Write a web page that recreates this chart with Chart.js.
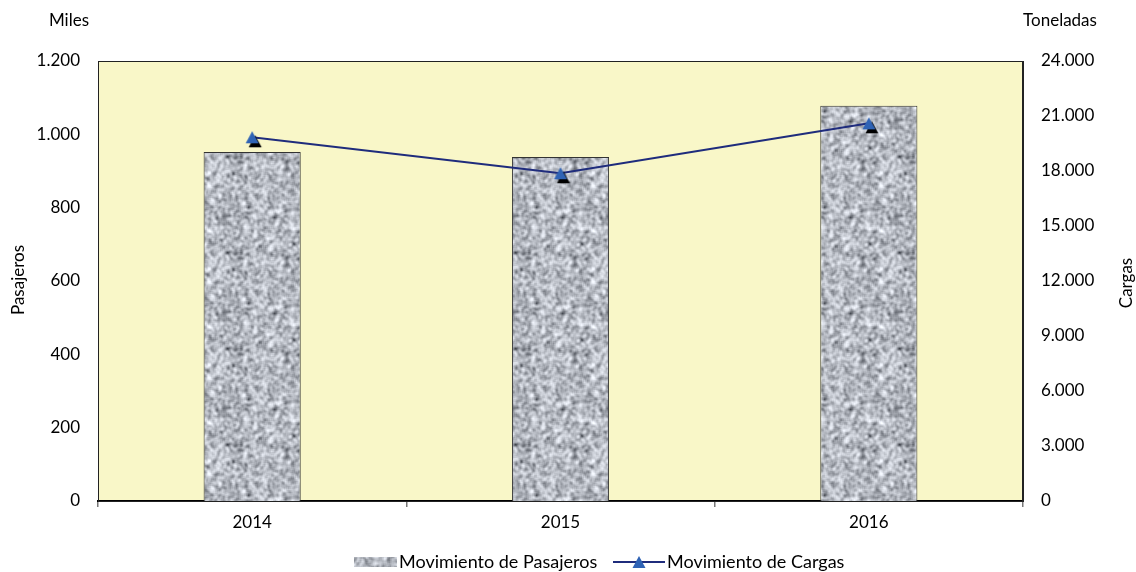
<!DOCTYPE html>
<html>
<head>
<meta charset="utf-8">
<script src="https://cdn.jsdelivr.net/npm/chart.js@4.4.1/dist/chart.umd.min.js"></script>
<style>
  body { margin: 0; background: #fff; }
</style>
</head>
<body>
<canvas id="chart" width="1136" height="572"></canvas>
<script>
var years = ['2014', '2015', '2016'];
var pasajeros = [952, 938, 1078];          // miles
var cargas = [19840, 17880, 20600];        // toneladas
var leftMax = 1200, leftStep = 200;
var rightMax = 24000, rightStep = 3000;
var seriesNames = ['Movimiento de Pasajeros', 'Movimiento de Cargas'];

var FONT = 'Lato, "Noto Sans", sans-serif';
var lineColor = '#1F2C7C';
var markerColor = '#2F63B5';

// puntos de miles: 1200 -> 1.200
function fmt(v) {
    return String(v).replace(/\B(?=(\d{3})+(?!\d))/g, '.');
}

// textura tipo granito para las barras
function makeGranite() {
    var size = 96;
    var c = document.createElement('canvas');
    c.width = c.height = size;
    var g = c.getContext('2d');
    var seed = 20161;
    function rnd() {
        seed = (seed * 1103515245 + 12345) & 0x7fffffff;
        return seed / 0x7fffffff;
    }
    var n = new Float32Array(size * size);
    for (var i = 0; i < n.length; i++) n[i] = rnd();
    for (var pass = 0; pass < 2; pass++) {
        var m = new Float32Array(size * size);
        for (var y = 0; y < size; y++) {
            for (var x = 0; x < size; x++) {
                var s = 0;
                for (var dy = -1; dy <= 1; dy++) {
                    for (var dx = -1; dx <= 1; dx++) {
                        s += n[((y + dy + size) % size) * size + (x + dx + size) % size];
                    }
                }
                m[y * size + x] = s / 9;
            }
        }
        n = m;
    }
    var lo = 1, hi = 0;
    for (var k = 0; k < n.length; k++) { lo = Math.min(lo, n[k]); hi = Math.max(hi, n[k]); }
    var img = g.createImageData(size, size);
    for (var j = 0; j < n.length; j++) {
        var t = (n[j] - lo) / (hi - lo);
        t = Math.pow(t, 0.7);
        var v = 70 + t * 185;
        img.data[j * 4] = v - 4;
        img.data[j * 4 + 1] = v;
        img.data[j * 4 + 2] = v + 8;
        img.data[j * 4 + 3] = 255;
    }
    g.putImageData(img, 0, 0);
    return c;
}

function drawTri(g, cx, cy, color) {
    g.fillStyle = color;
    g.beginPath();
    g.moveTo(cx, cy - 6);
    g.lineTo(cx + 6.5, cy + 6);
    g.lineTo(cx - 6.5, cy + 6);
    g.closePath();
    g.fill();
}

// triangulo azul con sombra negra
function makeMarker() {
    var c = document.createElement('canvas');
    c.width = c.height = 26;
    var g = c.getContext('2d');
    drawTri(g, 13 + 3, 13 + 4, '#000');
    drawTri(g, 13, 13, markerColor);
    return c;
}

var granite = makeGranite();
var ctx = document.getElementById('chart').getContext('2d');
var pattern = ctx.createPattern(granite, 'repeat');

var extras = {
    id: 'extras',
    beforeDraw: function(chart) {
        var a = chart.chartArea, c = chart.ctx;
        c.save();
        c.fillStyle = '#F9F7C8';
        c.fillRect(a.left, a.top, a.right - a.left, a.bottom - a.top);
        c.restore();
    },
    afterDatasetsDraw: function(chart) {
        var a = chart.chartArea, c = chart.ctx;
        c.save();
        c.strokeStyle = '#222';
        c.lineWidth = 1;
        c.strokeRect(a.left + 0.5, a.top + 0.5, a.right - a.left - 1, a.bottom - a.top);
        c.restore();
    },
    afterDraw: function(chart) {
        var c = chart.ctx;
        c.save();
        c.fillStyle = '#000';
        c.font = '17px ' + FONT;
        c.textBaseline = 'middle';
        c.textAlign = 'center';
        c.fillText('Miles', 69, 21);
        c.fillText('Toneladas', 1060, 21);

        c.save();
        c.translate(19, 280);
        c.rotate(-Math.PI / 2);
        c.fillText('Pasajeros', 0, 0);
        c.restore();
        c.save();
        c.translate(1127, 283);
        c.rotate(-Math.PI / 2);
        c.fillText('Cargas', 0, 0);
        c.restore();

        // leyenda
        var ly = 562;
        c.font = '18px ' + FONT;
        c.fillStyle = pattern;
        c.fillRect(354, ly - 5, 43, 10);
        c.fillStyle = '#000';
        c.textAlign = 'left';
        c.fillText(seriesNames[0], 399, ly);
        c.strokeStyle = lineColor;
        c.lineWidth = 2;
        c.beginPath();
        c.moveTo(613, ly);
        c.lineTo(665, ly);
        c.stroke();
        drawTri(c, 639, ly, markerColor);
        c.fillStyle = '#000';
        c.fillText(seriesNames[1], 667, ly);
        c.restore();
    }
};

var chart = new Chart(ctx, {
    type: 'bar',
    data: {
        labels: years,
        datasets: [{
            type: 'line',
            label: seriesNames[1],
            data: cargas,
            yAxisID: 'y1',
            borderColor: lineColor,
            borderWidth: 2,
            pointStyle: makeMarker(),
            pointRadius: 7,
            tension: 0,
            order: 0
        }, {
            type: 'bar',
            label: seriesNames[0],
            data: pasajeros,
            yAxisID: 'y',
            backgroundColor: pattern,
            borderColor: '#333',
            borderWidth: 1,
            barPercentage: 0.315,
            categoryPercentage: 1,
            order: 1
        }]
    },
    options: {
        responsive: false,
        animation: false,
        layout: { padding: { top: 61, left: 0, right: 0, bottom: 0 } },
        plugins: {
            legend: { display: false },
            tooltip: { enabled: false }
        },
        scales: {
            x: {
                offset: true,
                grid: { offset: true, drawOnChartArea: false, color: '#777', lineWidth: 1.5, tickLength: 6 },
                border: { color: '#000', width: 2 },
                ticks: { color: '#000', font: { family: FONT, size: 17 }, padding: 5 },
                afterFit: function(s) { s.height = 71; }
            },
            y: {
                position: 'left',
                min: 0,
                max: leftMax,
                grid: { display: false, drawTicks: false },
                border: { color: '#222', width: 1 },
                ticks: { stepSize: leftStep, color: '#000', font: { family: FONT, size: 17 }, padding: 18, callback: function(v) { return fmt(v); } },
                afterFit: function(s) { s.width = 98; }
            },
            y1: {
                position: 'right',
                min: 0,
                max: rightMax,
                grid: { display: false, drawTicks: false },
                border: { color: '#222', width: 1 },
                ticks: { stepSize: rightStep, color: '#000', font: { family: FONT, size: 17 }, padding: 18, callback: function(v) { return fmt(v); } },
                afterFit: function(s) { s.width = 113; }
            }
        }
    },
    plugins: [extras]
});
</script>
</body>
</html>
